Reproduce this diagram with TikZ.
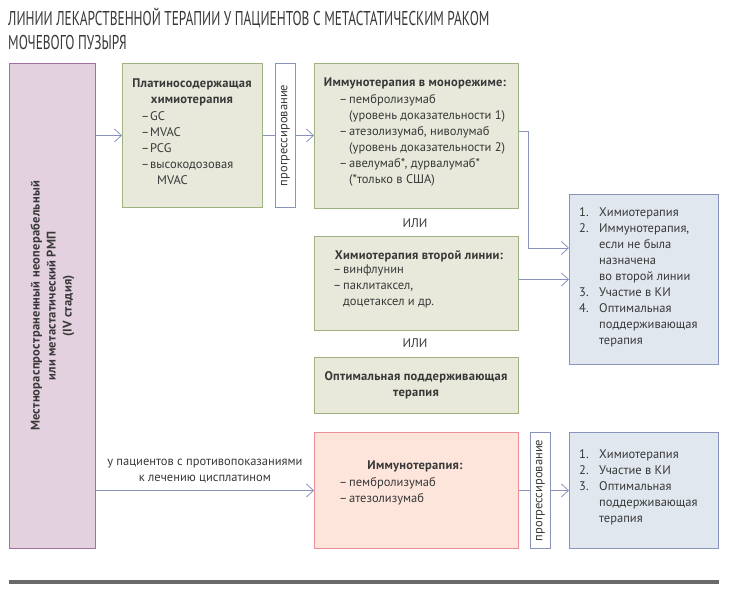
\documentclass[tikz,border=0pt]{standalone}
\usepackage{fontspec}
\setmainfont{PT Sans}[BoldFeatures={LetterSpace=2}]
\newfontfamily\titlefont[FakeStretch=0.667]{PT Sans}
\usetikzlibrary{arrows.meta}

\definecolor{txtgray}{HTML}{383838}
\definecolor{lilacfill}{HTML}{E3D1DF}
\definecolor{lilacline}{HTML}{A070A0}
\definecolor{olivefill}{HTML}{E8E9DB}
\definecolor{oliveline}{HTML}{9DB27E}
\definecolor{pinkfill}{HTML}{FDE5DB}
\definecolor{pinkline}{HTML}{EE8F98}
\definecolor{bluefill}{HTML}{E1E7EF}
\definecolor{blueline}{HTML}{8A93BA}
\definecolor{rulegray}{HTML}{6A6A6A}

\newcommand{\itm}[1][10pt]{\makebox[#1][l]{–}}
\newcommand{\num}[1]{\makebox[20pt][l]{#1}}

\begin{document}
\begin{tikzpicture}[x=1pt, y=-1pt,
    every node/.style={font=\fontsize{12.5}{16}\selectfont, text=txtgray},
    frame/.style={draw, line width=0.9pt, inner sep=0pt, anchor=north west},
    stagebox/.style={frame, draw=lilacline, fill=lilacfill},
    olivebox/.style={frame, draw=oliveline, fill=olivefill},
    pinkbox/.style={frame, draw=pinkline, fill=pinkfill},
    bluebox/.style={frame, draw=blueline, fill=bluefill},
    progbox/.style={frame, draw=blueline, fill=white, minimum width=20pt},
    txt/.style={inner sep=0pt, anchor=north west, align=left},
    head/.style={inner sep=0pt, align=center, font=\fontsize{12.5}{16}\selectfont\bfseries},
    conn/.style={draw=blueline, line width=0.8pt, -{Straight Barb[length=7pt, width=13pt]}},
    link/.style={draw=blueline, line width=0.8pt}]

  \useasboundingbox (0,0) rectangle (738,595);

  % title
  \node[txt, font=\titlefont\fontsize{20}{24}\selectfont] (title) at (8,8)
    {ЛИНИИ ЛЕКАРСТВЕННОЙ ТЕРАПИИ У ПАЦИЕНТОВ С МЕТАСТАТИЧЕСКИМ РАКОМ\\
     МОЧЕВОГО ПУЗЫРЯ};

  % --- boxes ---
  \node[stagebox, minimum width=86pt, minimum height=485pt] (stage) at (9,63) {};
  \node[olivebox, minimum width=140pt, minimum height=144pt] (plat) at (122,63) {};
  \node[progbox, minimum height=144pt] (prog1) at (275,63) {};
  \node[olivebox, minimum width=204pt, minimum height=145pt] (mono) at (314,63) {};
  \node[olivebox, minimum width=204pt, minimum height=94pt] (second) at (314,236) {};
  \node[olivebox, minimum width=204pt, minimum height=56pt] (support) at (314,357) {};
  \node[pinkbox, minimum width=204pt, minimum height=116pt] (immuno) at (314,432) {};
  \node[progbox, minimum height=116pt] (prog2) at (530,432) {};
  \node[bluebox, minimum width=149pt, minimum height=170pt] (res1) at (569,194) {};
  \node[bluebox, minimum width=149pt, minimum height=116pt] (res2) at (569,432) {};

  % --- texts ---
  \node[head, rotate=90] (stagetxt) at (stage.center)
    {Местнораспространенный неоперабельный\\или метастатический РМП\\(IV стадия)};
  \node[rotate=90, inner sep=0pt] (prog1txt) at (prog1.center) {прогрессирование};
  \node[rotate=90, inner sep=0pt] (prog2txt) at (prog2.center) {прогрессирование};

  \node[head, anchor=north] (plathead) at (192,79) {Платиносодержащая\\химиотерапия};
  \node[txt] (platlist) at (141,111)
    {\itm[9pt]GC\\ \itm[9pt]MVAC\\ \itm[9pt]PCG\\ \itm[9pt]высокодозовая\\ \hspace*{16pt}MVAC};

  \node[head, anchor=north] (monohead) at (415,78) {Иммунотерапия в монорежиме:};
  \node[txt] (monolist) at (339,94)
    {\itm пембролизумаб\\ \hspace*{10pt}(уровень доказательности 1)\\
     \itm атезолизумаб, ниволумаб\\ \hspace*{10pt}(уровень доказательности 2)\\
     \itm авелумаб*, дурвалумаб*\\ \hspace*{10pt}(*только в США)};

  \node[inner sep=0pt] (or1) at (415,223) {ИЛИ};
  \node[head, anchor=north] (secondhead) at (419,250) {Химиотерапия второй линии:};
  \node[txt] (secondlist) at (333,265)
    {\itm винфлунин\\ \itm паклитаксел,\\ \hspace*{10pt}доцетаксел и др.};

  \node[inner sep=0pt] (or2) at (415,343) {ИЛИ};
  \node[head, anchor=north] (supporthead) at (416,371) {Оптимальная поддерживающая\\терапия};

  \node[head, anchor=north] (immunohead) at (415,461) {Иммунотерапия:};
  \node[txt] (immunolist) at (339,477) {\itm пембролизумаб\\ \itm атезолизумаб};

  \node[txt] (res1list) at (579,207)
    {\num{1.}Химиотерапия\\ \num{2.}Иммунотерапия,\\ \num{}если не была\\
     \num{}назначена\\ \num{}во второй линии\\ \num{3.}Участие в КИ\\
     \num{4.}Оптимальная\\ \num{}поддерживающая\\ \num{}терапия};
  \node[txt] (res2list) at (579,449)
    {\num{1.}Химиотерапия\\ \num{2.}Участие в КИ\\ \num{3.}Оптимальная\\
     \num{}поддерживающая\\ \num{}терапия};

  % --- connectors ---
  \draw[conn] (stage.east |- plat.west) -- (plat.west);
  \draw[link] (plat.east) -- (prog1.west);
  \draw[conn] (prog1.east) -- (prog1.east -| mono.west);

  \coordinate (bend) at (528,248);
  \draw[conn] ([yshift=5pt]mono.east) -| (bend) -- (bend -| res1.west);
  \draw[conn] ([yshift=4pt]second.east) -- ([yshift=4pt]second.east -| res1.west);

  \draw[conn] (stage.east |- immuno.west) -- node[above=7pt, inner sep=0pt, align=center]
    {у пациентов с противопоказаниями\\к лечению цисплатином} (immuno.west);
  \draw[link] (immuno.east) -- (prog2.west);
  \draw[conn] (prog2.east) -- (res2.west);

  % bottom rule
  \draw[rulegray, line width=3.5pt] (9,582) -- (719,582);

\end{tikzpicture}
\end{document}
